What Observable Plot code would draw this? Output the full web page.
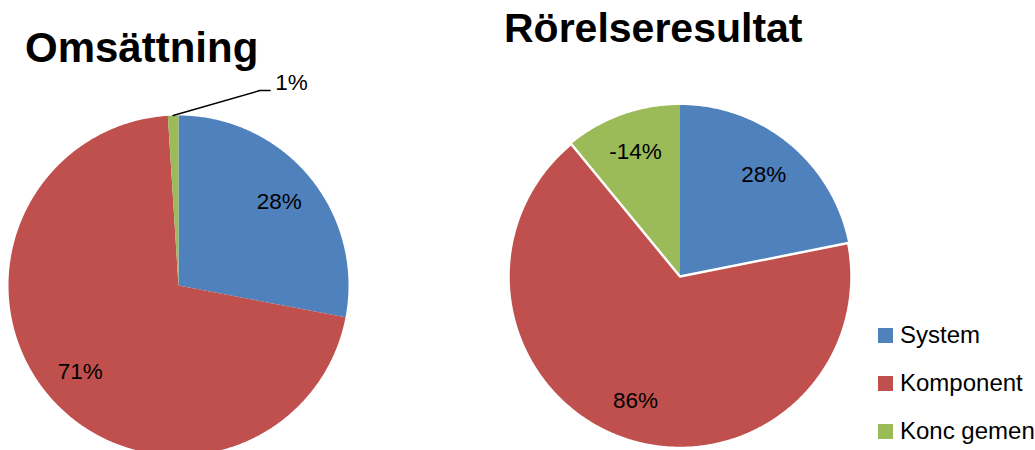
<!DOCTYPE html>
<html><head><meta charset="utf-8">
<script src="https://cdn.jsdelivr.net/npm/d3@7"></script>
<script src="https://cdn.jsdelivr.net/npm/@observablehq/plot@0.6"></script>
<style>
html,body{margin:0;padding:0;background:#fff;width:1035px;height:450px;overflow:hidden;}
#root{position:relative;width:1035px;height:450px;font-family:"Liberation Sans",Arial,sans-serif;overflow:hidden;}
.abs{position:absolute;}
.title{font-weight:bold;color:#000;white-space:nowrap;}
.leg{font-size:24px;line-height:24px;white-space:nowrap;color:#000;}
.sw{width:15px;height:15px;}
</style></head><body><div id="root"></div>
<script>
const categories = ["System", "Komponent", "Konc gemen"];
const colors = ["#4F81BD", "#C0504D", "#9BBB59"];
const titles = ["Omsättning", "Rörelseresultat"];
const omsattning = [28, 71, 1];
const rorelseresultat = [28, 86, -14];

function slices(values) {
  const arcs = d3.pie().sort(null).value(v => Math.abs(v))(values);
  return arcs.map((p, i) => ({cat: categories[i], value: values[i], a0: p.startAngle, a1: p.endAngle,
    share: (p.endAngle - p.startAngle) / (2 * Math.PI)}));
}
function outline(s) {
  const pts = [{cat: s.cat, x: 0, y: 0}];
  const n = Math.max(2, Math.ceil((s.a1 - s.a0) / (Math.PI / 360)));
  for (let k = 0; k <= n; k++) {
    const a = s.a0 + (s.a1 - s.a0) * k / n;
    pts.push({cat: s.cat, x: Math.sin(a), y: Math.cos(a)});
  }
  return pts;
}
function pieChart({values, cx, cy, r, width, height, borderCat}) {
  const sl = slices(values);
  const poly = sl.flatMap(outline);
  const inside = sl.filter(s => s.share >= 0.05).map(s => {
    const m = (s.a0 + s.a1) / 2;
    return {x: 0.77 * Math.sin(m), y: 0.77 * Math.cos(m), label: `${s.value}%`};
  });
  const outside = sl.filter(s => s.share < 0.05);
  const leader = outside.flatMap(s => {
    const m = (s.a0 + s.a1) / 2, ex = Math.sin(m), ey = Math.cos(m);
    return [{id: s.cat, x: ex, y: ey}, {id: s.cat, x: ex + 0.51, y: ey + 0.147}, {id: s.cat, x: ex + 0.57, y: ey + 0.147}];
  });
  const outLabels = outside.map(s => {
    const m = (s.a0 + s.a1) / 2, ex = Math.sin(m), ey = Math.cos(m);
    return {x: ex + 0.60, y: ey + 0.19, label: `${s.value}%`};
  });
  const marks = [
    Plot.line(poly, {x: "x", y: "y", z: "cat", fill: "cat", stroke: "none", curve: "linear-closed"})
  ];
  if (borderCat) {
    marks.push(Plot.line(poly.filter(d => d.cat === borderCat),
      {x: "x", y: "y", stroke: "white", strokeWidth: 2.5, fill: "none", curve: "linear-closed", strokeLinejoin: "round"}));
  }
  marks.push(Plot.text(inside, {x: "x", y: "y", text: "label", fontSize: 22.5, fill: "black"}));
  marks.push(Plot.line(leader, {x: "x", y: "y", z: "id", stroke: "black", strokeWidth: 1.5}));
  marks.push(Plot.text(outLabels, {x: "x", y: "y", text: "label", fontSize: 22.5, fill: "black", textAnchor: "start"}));
  return Plot.plot({
    width, height, margin: 0,
    style: {background: "transparent", fontFamily: "'Liberation Sans', Arial, sans-serif", overflow: "visible"},
    x: {domain: [-1, 1], range: [cx - r, cx + r], axis: null},
    y: {domain: [-1, 1], range: [cy + r, cy - r], axis: null},
    color: {domain: categories, range: colors},
    marks
  });
}

const root = document.getElementById("root");
function place(el, left, top) {
  const d = document.createElement("div");
  d.className = "abs";
  d.style.left = left + "px"; d.style.top = top + "px";
  d.appendChild(el);
  root.appendChild(d);
  return d;
}
place(pieChart({values: omsattning, cx: 178, cy: 285, r: 170, width: 360, height: 450}), 0, 0);
place(pieChart({values: rorelseresultat, cx: 189.5, cy: 276, r: 171.5, width: 380, height: 450, borderCat: "Komponent"}), 490, 0);

function title(text, left, top, size) {
  const d = document.createElement("div");
  d.className = "abs title";
  d.style.left = left + "px"; d.style.top = top + "px";
  d.style.fontSize = size + "px"; d.style.lineHeight = size + "px";
  d.textContent = text;
  root.appendChild(d);
}
title(titles[0], 25, 27, 42);
title(titles[1], 504, 8, 41);

categories.forEach((c, i) => {
  const sw = document.createElement("div");
  sw.className = "abs sw";
  sw.style.left = "878px"; sw.style.top = (328 + 48 * i) + "px";
  sw.style.background = colors[i];
  root.appendChild(sw);
  const t = document.createElement("div");
  t.className = "abs leg";
  t.style.left = "900px"; t.style.top = (322.5 + 48 * i) + "px";
  t.textContent = c;
  root.appendChild(t);
});
</script></body></html>
